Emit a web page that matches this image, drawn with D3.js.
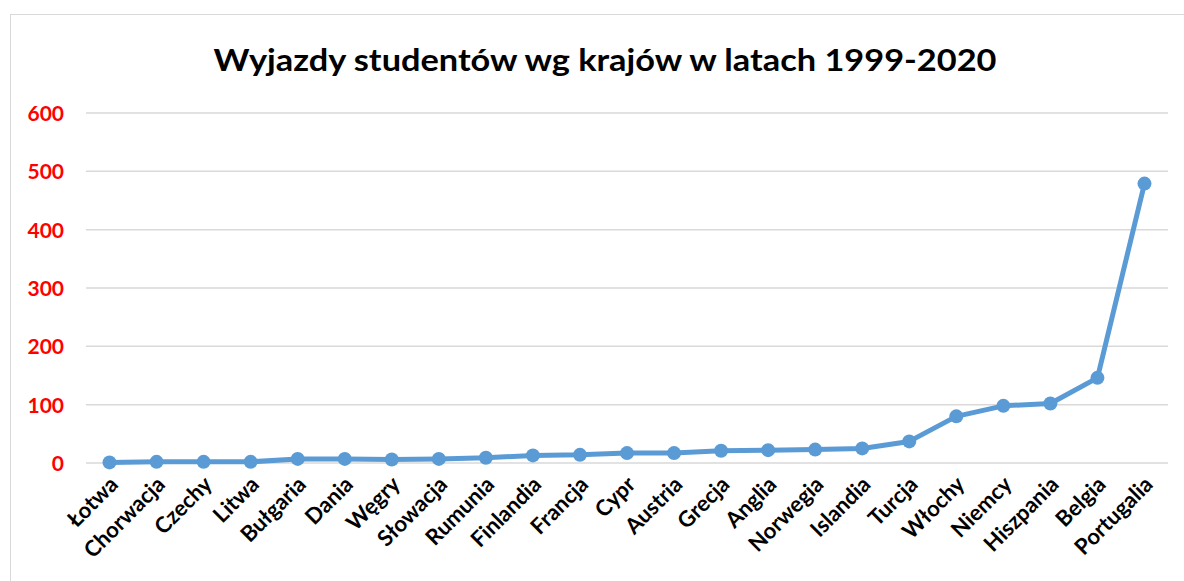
<!DOCTYPE html>
<html>
<head>
<meta charset="utf-8">
<script src="https://cdn.jsdelivr.net/npm/d3@7"></script>
<style>
    body { margin: 0; background: #fff; }
    text { font-family: Lato, "Open Sans", sans-serif; font-weight: bold; }
</style>
</head>
<body>
<svg id="chart" width="1184" height="581"></svg>
<script>
const countries = ["Łotwa", "Chorwacja", "Czechy", "Litwa", "Bułgaria", "Dania", "Węgry",
    "Słowacja", "Rumunia", "Finlandia", "Francja", "Cypr", "Austria", "Grecja", "Anglia",
    "Norwegia", "Islandia", "Turcja", "Włochy", "Niemcy", "Hiszpania", "Belgia", "Portugalia"];
const trips = [1, 2, 2, 2, 7, 7, 6, 7, 9, 13, 14, 17, 17, 21, 22, 23, 25, 37, 80, 98, 102, 146, 479];
const yTicks = [0, 100, 200, 300, 400, 500, 600];
const title = "Wyjazdy studentów wg krajów w latach 1999-2020";

const svg = d3.select("#chart");

// chart frame
svg.append("rect")
    .attr("x", 10.5).attr("y", 14.5)
    .attr("width", 1200).attr("height", 600)
    .attr("fill", "none").attr("stroke", "#d9d9d9");

const x = d3.scaleBand().domain(countries).range([86, 1168]);
const y = d3.scaleLinear().domain([0, 600]).range([463, 113]);

// gridlines
svg.append("g")
    .selectAll("line")
    .data(yTicks)
    .enter().append("line")
    .attr("x1", 86).attr("x2", 1168)
    .attr("y1", d => y(d)).attr("y2", d => y(d))
    .attr("stroke", "#d9d9d9").attr("stroke-width", 1.5);

const yAxis = svg.append("g")
    .attr("transform", "translate(64,0)")
    .call(d3.axisLeft(y).tickValues(yTicks).tickSize(0).tickPadding(0));
yAxis.select(".domain").remove();
yAxis.selectAll("text")
    .attr("fill", "#ff0000")
    .style("font-size", "21px")
    .attr("dy", "0.35em");

const xAxis = svg.append("g")
    .attr("transform", "translate(0,475)")
    .call(d3.axisBottom(x).tickSize(0).tickPadding(0));
xAxis.select(".domain").remove();
xAxis.selectAll("text")
    .attr("fill", "#000")
    .style("font-size", "22px")
    .attr("text-anchor", "end")
    .attr("dy", "0.5em")
    .attr("transform", "translate(2,3) rotate(-45)");

const line = d3.line()
    .x((d, i) => x(countries[i]) + x.bandwidth() / 2)
    .y(d => y(d));

svg.append("path")
    .datum(trips)
    .attr("d", line)
    .attr("fill", "none")
    .attr("stroke", "#5b9bd5")
    .attr("stroke-width", 5)
    .attr("stroke-linejoin", "round");

svg.append("g")
    .selectAll("circle")
    .data(trips)
    .enter().append("circle")
    .attr("cx", (d, i) => x(countries[i]) + x.bandwidth() / 2)
    .attr("cy", d => y(d))
    .attr("r", 7)
    .attr("fill", "#5b9bd5");

svg.append("text")
    .attr("x", 605).attr("y", 71)
    .attr("text-anchor", "middle")
    .style("font-size", "31px")
    .attr("textLength", 783)
    .attr("lengthAdjust", "spacingAndGlyphs")
    .text(title);
</script>
</body>
</html>
